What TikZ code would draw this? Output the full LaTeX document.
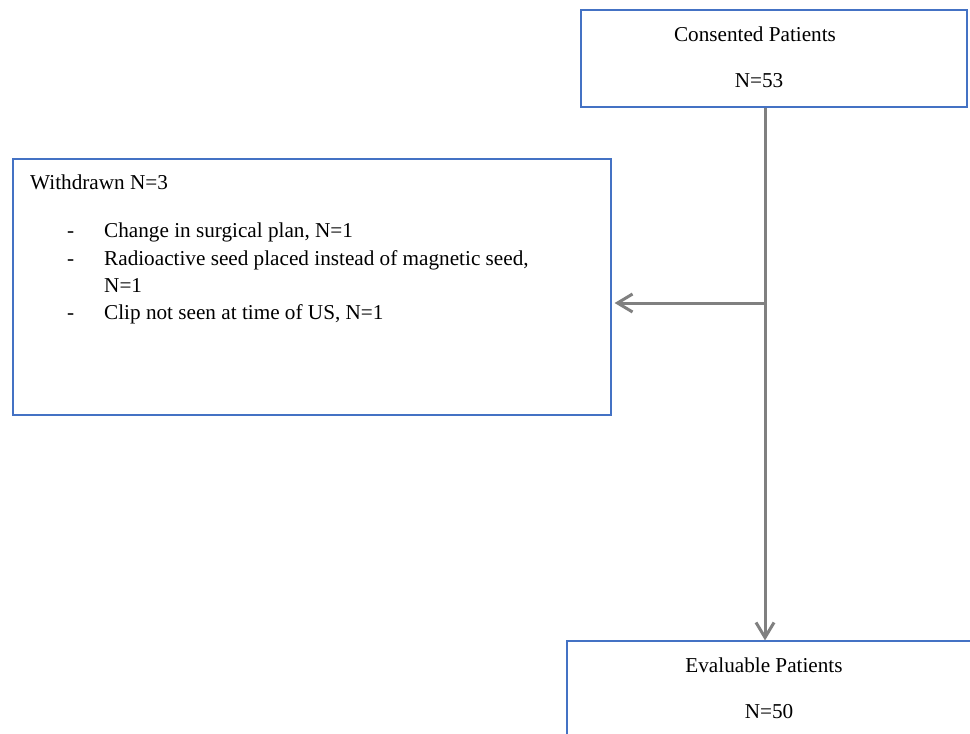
\documentclass[tikz,border=0pt]{standalone}
\usepackage{fontspec}
\setmainfont{Liberation Serif}
\usetikzlibrary{arrows.meta}
\definecolor{boxblue}{RGB}{68,114,196}
\definecolor{arrgray}{RGB}{128,128,128}
\begin{document}
\begin{tikzpicture}[x=1pt,y=-1pt,
  box/.style={draw=boxblue,line width=1.2pt,fill=white,inner sep=0pt},
  txt/.style={inner sep=0pt,font=\fontsize{21.2}{27.5}\selectfont},
  arr/.style={draw=arrgray,line width=3pt,-{Straight Barb[length=15pt,width=18pt,line width=3pt]}}]
\useasboundingbox (0,0) rectangle (970,734);
\clip (0,0) rectangle (970,734);
\fill[white] (0,0) rectangle (970,734);
% boxes
\node[box,minimum width=386pt,minimum height=97pt] (top) at (774,58.5) {};
\node[box,minimum width=598pt,minimum height=256pt] (wd) at (312,287) {};
\node[box,minimum width=433pt,minimum height=139pt] (bot) at (783.5,710.5) {};
% texts
\node[txt,anchor=base] (t1) at (755,41) {Consented Patients};
\node[txt,anchor=base] (t2) at (759,87) {N=53};
\node[txt,anchor=base west] (w0) at (30,189) {Withdrawn N=3};
\node[txt,anchor=base west] (d1) at (67,237) {-};
\node[txt,anchor=base west] (d2) at (67,265) {-};
\node[txt,anchor=base west] (d3) at (67,319) {-};
\node[txt,anchor=base west] (w1) at (104,237) {Change in surgical plan, N=1};
\node[txt,anchor=base west] (w2) at (104,265) {Radioactive seed placed instead of magnetic seed,};
\node[txt,anchor=base west] (w3) at (104,292) {N=1};
\node[txt,anchor=base west] (w4) at (104,319) {Clip not seen at time of US, N=1};
\node[txt,anchor=base] (b1) at (764,672) {Evaluable Patients};
\node[txt,anchor=base] (b2) at (769,718) {N=50};
% connectors
\coordinate (j) at (765,303);
\draw[arr] (top.south -| j) -- (bot.north -| j);
\draw[arr,shorten >=3pt] (j) -- (wd.east |- j);
\end{tikzpicture}
\end{document}
